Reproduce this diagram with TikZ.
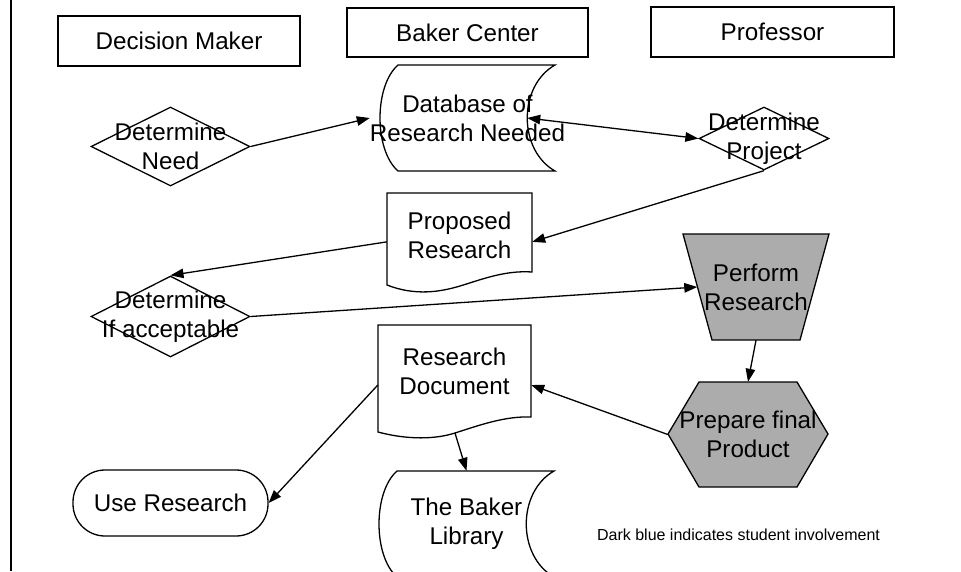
\documentclass[tikz,border=0pt]{standalone}
\usepackage{fontspec}
\setmainfont{Liberation Sans}
\usepackage{tikz}
\usepackage{xcolor}
\usetikzlibrary{shapes.geometric,arrows.meta,calc}
\definecolor{studentgray}{RGB}{172,172,172}
\tikzset{
  lanebox/.style={draw,line width=1.3pt,minimum width=242pt,minimum height=50pt,inner sep=0pt},
  decision/.style={draw,diamond,line width=1.3pt,inner sep=0pt},
  outline/.style={draw,line width=1.3pt},
  student/.style={draw,line width=1.3pt,fill=studentgray},
  flowarrow/.style={line width=1.3pt,->},
  txt/.style={align=center,inner sep=0pt}
}

\begin{document}
\begin{tikzpicture}[x=1pt,y=-1pt,font=\fontsize{24.2}{29}\selectfont,>={Triangle[length=13pt,width=9.5pt]}]
    \useasboundingbox (0,0) rectangle (961,571);
    \draw[line width=2.5pt] (11,0) -- (11,571);

    % Lanes
    \node[lanebox] (dm) at (179,41) {Decision Maker};
    \node[lanebox,minimum width=241pt,minimum height=49pt] (bc) at (467.5,32.5) {Baker Center};
    \node[lanebox,minimum width=243pt] (prof) at (772.5,32) {Professor};

    % Decision maker column
    \node[decision,minimum width=159pt,minimum height=79pt,
          label={[txt]center:Determine\\Need}] (need) at (170.5,146.5) {};
    \node[decision,minimum width=159pt,minimum height=81pt,
          label={[txt]center:Determine\\If acceptable}] (acc) at (170.5,316.5) {};
    \node[draw,line width=1.3pt,rounded corners=32pt,minimum width=195pt,minimum height=66pt] (use) at (170.5,503) {Use Research};

    % Baker center column
    \begin{scope}[shift={(467.5,118)}]
        \draw[outline] (-69.5,-53) -- (87.5,-53) .. controls (50.5,-32) and (50.5,32) .. (87.5,53)
            -- (-69.5,53) .. controls (-93.5,32) and (-93.5,-32) .. (-69.5,-53) -- cycle;
        \node[txt,minimum width=175pt,minimum height=106pt] (db) at (0,0) {Database of\\Research Needed};
        \coordinate (db right) at (59.75,0);
    \end{scope}

    \draw[outline] (387,193) -- (532,193) -- (532,272) .. controls (505,270) and (480,280) .. (460,286)
        .. controls (440,292) and (415,296) .. (387,285) -- cycle;
    \node[txt,minimum width=145pt,minimum height=85pt] (prop) at (459.5,235.5) {Proposed\\Research};

    \draw[outline] (378,325) -- (531,325) -- (531,417) .. controls (505,416) and (480,425) .. (455,433)
        .. controls (430,441) and (400,438) .. (378,432) -- cycle;
    \node[txt,minimum width=153pt,minimum height=93pt] (doc) at (454.5,371.5) {Research\\Document};
    \coordinate (doc wave) at (455,433);

    \begin{scope}[shift={(466.5,524)}]
        \draw[outline] (-69.5,-53) -- (87.5,-53) .. controls (50.5,-32) and (50.5,32) .. (87.5,53)
            -- (-69.5,53) .. controls (-93.5,32) and (-93.5,-32) .. (-69.5,-53) -- cycle;
        \node[txt,minimum width=175pt,minimum height=106pt] (lib) at (0,0) {The Baker\\Library};
    \end{scope}

    % Professor column
    \node[decision,minimum width=130pt,minimum height=63pt,
          label={[txt]center:Determine\\Project}] (proj) at (764,138.5) {};
    \draw[student] (683,234) -- (829,234) -- (800,340) -- (712,340) -- cycle;
    \node[txt,minimum width=117pt,minimum height=106pt] (perf) at (756,287) {Perform\\Research};
    \draw[student] (699,382) -- (797,382) -- (828,434) -- (797,487) -- (699,487) -- (668,434) -- cycle;
    \node[txt,minimum width=160pt,minimum height=105pt] (prep) at (748,434.5) {Prepare final\\Product};

    \node[font=\fontsize{16}{18}\selectfont] (note) at (738.5,535) {Dark blue indicates student involvement};

    % Flow
    \draw[flowarrow] (need.east) -- (db.west);
    \draw[flowarrow,<->] (db right) -- (proj.west);
    \draw[flowarrow] (proj.south) -- (prop.-5);
    \draw[flowarrow] (prop.185) -- (acc.north);
    \draw[flowarrow] (acc.east) -- (perf.west);
    \draw[flowarrow] (perf.south) -- (prep.north);
    \draw[flowarrow] (prep.west) -- (doc.-10);
    \draw[flowarrow] (doc.190) -- (use.east);
    \draw[flowarrow] (doc wave) -- (lib.north);
\end{tikzpicture}
\end{document}
